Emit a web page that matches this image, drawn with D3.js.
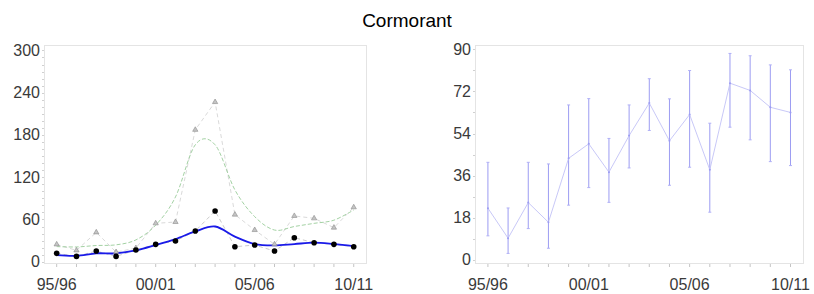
<!DOCTYPE html>
<html>
<head>
<meta charset="utf-8">
<script src="https://cdn.jsdelivr.net/npm/d3@7"></script>
<style>
  body { margin: 0; background: #fff; }
  text { font-family: "Liberation Sans", Arial, sans-serif; }
</style>
</head>
<body>
<div id="chart"></div>
<script>
// seasons 95/96 .. 10/11
var seasons = ["95/96","96/97","97/98","98/99","99/00","00/01","01/02","02/03",
               "03/04","04/05","05/06","06/07","07/08","08/09","09/10","10/11"];
var xLabels = ["95/96","00/01","05/06","10/11"];

// left panel
var maxCounts  = [24.6,16.1,41.7,13.7,19.4,54.5,56.4,187.3,226.7,66.9,45,24.7,65,61.6,48.4,77.3];
var meanCounts = [11.9,7.6,15.2,7.6,16.6,24.7,29.4,43.6,72,21.3,23.7,15.2,34.1,27,24.7,21.3];
var maxSmooth  = [21.5,21,23,24,31,52,92,166,166,102,64,45,50,54.5,59,73.5];
var meanSmooth = [9.5,8.5,11.9,11.9,16,23.7,32.2,43,50,35.6,25.1,23.2,25.1,27,25.1,22.3];
var leftTicks  = [0,60,120,180,240,300];

// right panel
var ratio     = [22.1,9.3,24.5,16.1,43.4,49.6,37.5,53.1,67,50.9,62.1,38.5,75.5,72.4,65.2,63];
var ratioLow  = [10.3,2.8,13.4,5,23.4,30.9,24.6,39.3,55.3,31.9,39.6,20.4,56.7,51.3,42,40.3];
var ratioHigh = [41.7,22.2,41.7,41,66.2,68.9,51.9,66.2,77.4,68.8,80.9,58.4,88.2,87.2,83.3,81.2];
var rightTicks = [0,18,36,54,72,90];

var width = 814, height = 294;

var svg = d3.select("#chart").append("svg")
    .attr("width", width)
    .attr("height", height);

svg.append("text")
    .attr("x", 407)
    .attr("y", 27)
    .attr("text-anchor", "middle")
    .style("font-size", "19px")
    .style("fill", "#000")
    .text("Cormorant");

function panel(box, yDomain, ticks, minorStep) {
    var x = d3.scaleLinear().domain([-0.64, 15.62]).range([box.x0, box.x1]);
    var y = d3.scaleLinear().domain(yDomain).range([box.y1, box.y0]);
    var g = svg.append("g");

    // frame
    g.append("rect")
        .attr("x", box.x0 + 0.5).attr("y", box.y0 + 0.5)
        .attr("width", box.x1 - box.x0).attr("height", box.y1 - box.y0)
        .style("fill", "none").style("stroke", "#e4e4e4");

    // minor ticks on the y axis
    var minor = d3.range(0, yDomain[1], minorStep);
    g.selectAll(".minor").data(minor).enter().append("line")
        .attr("x1", box.x0 - 2).attr("x2", box.x0)
        .attr("y1", function(d){ return Math.round(y(d)) + 0.5; })
        .attr("y2", function(d){ return Math.round(y(d)) + 0.5; })
        .style("stroke", "#d0d0d0");

    g.selectAll(".ylab").data(ticks).enter().append("text")
        .attr("x", box.x0 - 4)
        .attr("y", function(d){ return y(d) + 5.5; })
        .attr("text-anchor", "end")
        .style("font-size", "16px")
        .style("fill", "#3a3a3a")
        .text(function(d){ return d; });

    // x ticks
    g.selectAll(".xt").data(seasons).enter().append("line")
        .attr("x1", function(d,i){ return x(i); })
        .attr("x2", function(d,i){ return x(i); })
        .attr("y1", box.y1 + 1).attr("y2", box.y1 + 4)
        .style("stroke", "#c4c4c4");

    g.selectAll(".xlab").data(xLabels).enter().append("text")
        .attr("x", function(d){ return x(seasons.indexOf(d)); })
        .attr("y", 290)
        .attr("text-anchor", "middle")
        .style("font-size", "16px")
        .style("fill", "#3a3a3a")
        .text(function(d){ return d; });

    return { g: g, x: x, y: y };
}

// ---------- left panel ----------
var L = panel({x0: 44, x1: 366, y0: 45, y1: 263}, [-1.8, 307.7], leftTicks, 10);

function lineOf(p, curve) {
    return d3.line()
        .x(function(d,i){ return p.x(i); })
        .y(function(d){ return p.y(d); })
        .curve(curve);
}

L.g.append("path")
    .attr("d", lineOf(L, d3.curveLinear)(maxCounts))
    .style("fill", "none").style("stroke", "#cfcfcf")
    .style("stroke-width", 0.8)
    .style("stroke-dasharray", "4,3");

L.g.append("path")
    .attr("d", lineOf(L, d3.curveLinear)(meanCounts))
    .style("fill", "none").style("stroke", "#bdbdbd")
    .style("stroke-width", 0.8)
    .style("stroke-dasharray", "4,3");

L.g.append("path")
    .attr("d", lineOf(L, d3.curveCardinal.tension(0))(maxSmooth))
    .style("fill", "none").style("stroke", "#98cc98")
    .style("stroke-width", 0.9)
    .style("stroke-dasharray", "4,2");

L.g.append("path")
    .attr("d", lineOf(L, d3.curveCardinal.tension(0))(meanSmooth))
    .style("fill", "none").style("stroke", "#1a1ae8")
    .style("stroke-width", 1.8);

var tri = d3.symbol().type(d3.symbolTriangle).size(12);
L.g.selectAll(".tri").data(maxCounts).enter().append("path")
    .attr("d", tri)
    .attr("transform", function(d,i){ return "translate(" + L.x(i) + "," + L.y(d) + ")"; })
    .style("fill", "#c4c4c4").style("stroke", "#8c8c8c").style("stroke-width", 0.6);

L.g.selectAll(".dot").data(meanCounts).enter().append("circle")
    .attr("cx", function(d,i){ return L.x(i); })
    .attr("cy", function(d){ return L.y(d); })
    .attr("r", 2.8)
    .style("fill", "#000");

// ---------- right panel ----------
var R = panel({x0: 475, x1: 803, y0: 45, y1: 263}, [-1.3, 91.8], rightTicks, 9);

R.g.selectAll(".err").data(ratio).enter().append("line")
    .attr("x1", function(d,i){ return R.x(i); })
    .attr("x2", function(d,i){ return R.x(i); })
    .attr("y1", function(d,i){ return R.y(ratioLow[i]); })
    .attr("y2", function(d,i){ return R.y(ratioHigh[i]); })
    .style("stroke", "#9c9cf2");

var caps = ratioLow.concat(ratioHigh);
R.g.selectAll(".cap").data(caps).enter().append("line")
    .attr("x1", function(d,i){ return R.x(i % 16) - 1.5; })
    .attr("x2", function(d,i){ return R.x(i % 16) + 1.5; })
    .attr("y1", function(d){ return R.y(d); })
    .attr("y2", function(d){ return R.y(d); })
    .style("stroke", "#b0b0f6");

R.g.append("path")
    .attr("d", lineOf(R, d3.curveLinear)(ratio))
    .style("fill", "none").style("stroke", "#c2c2f6")
    .style("stroke-width", 0.9);

R.g.selectAll(".pt").data(ratio).enter().append("circle")
    .attr("cx", function(d,i){ return R.x(i); })
    .attr("cy", function(d){ return R.y(d); })
    .attr("r", 1)
    .style("fill", "#9c9cf2");
</script>
</body>
</html>
